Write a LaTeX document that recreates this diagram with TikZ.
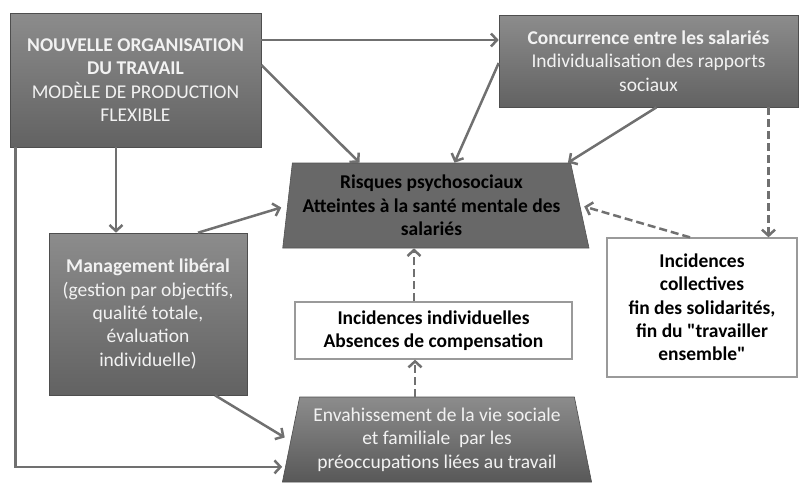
\documentclass[tikz,border=0pt]{standalone}
\usepackage{fontspec}
\setmainfont{Carlito}[Ligatures=TeXOff]
\usetikzlibrary{arrows.meta,shapes.geometric,calc}
\definecolor{arrc}{HTML}{707070}
\definecolor{boxtop}{HTML}{8C8C8C}
\definecolor{boxbot}{HTML}{626262}
\definecolor{darkfill}{HTML}{686868}
\definecolor{wtext}{HTML}{F2F2F2}
\definecolor{wborder}{HTML}{9A9A9A}
\tikzset{
  greybox/.style={rectangle, top color=boxtop, bottom color=boxbot, draw=boxbot!80!black, line width=0.6pt,
    text=wtext, align=center, inner sep=3pt, font=\fontsize{19.5}{23.3}\selectfont},
  whitebox/.style={rectangle, fill=white, draw=wborder, line width=1.3pt, text=black, align=center,
    inner sep=3pt, font=\fontsize{19.5}{23.3}\selectfont\bfseries},
  trap/.style={trapezium, trapezium stretches=true, align=center, inner sep=2pt,
    font=\fontsize{19.5}{23.3}\selectfont},
  arr/.style={draw=arrc, line width=2.5pt, -{Straight Barb[length=6pt,width=13pt]}},
  darr/.style={arr, dash pattern=on 8pt off 4pt}
}
\begin{document}
\begin{tikzpicture}[x=1pt,y=-1pt]
\useasboundingbox (0,0) rectangle (800,483);
% boxes
\node[greybox, minimum width=251pt, minimum height=134pt] (A) at (135.5,80)
  {\textbf{NOUVELLE ORGANISATION}\\\textbf{DU TRAVAIL}\\MODÈLE DE PRODUCTION\\FLEXIBLE};
\node[greybox, minimum width=299pt, minimum height=92pt] (B) at (648.5,61)
  {\textbf{Concurrence entre les salariés}\\Individualisation des rapports\\sociaux};
\node[trap, fill=darkfill, draw=darkfill!80!black, line width=0.6pt, text=black, font=\fontsize{19.5}{23.3}\selectfont\bfseries,
  trapezium left angle=82, trapezium right angle=75, minimum width=307pt, minimum height=85pt] (R) at (431.5,205.5)
  {Risques psychosociaux\\Atteintes à la santé mentale des\\salariés};
\node[greybox, minimum width=198pt, minimum height=162pt] (M) at (148,314)
  {\textbf{Management libéral}\\(gestion par objectifs,\\qualité totale,\\évaluation\\individuelle)};
\node[whitebox, minimum width=277pt, minimum height=57pt] (I) at (433.5,330.5)
  {Incidences individuelles\\Absences de compensation};
\node[whitebox, minimum width=190pt, minimum height=139pt] (C) at (702,307.5)
  {Incidences\\collectives\\fin des solidarités,\\fin du "travailler\\ensemble"};
\node[trap, top color=boxtop, bottom color=boxbot!90!black, draw=boxbot!80!black, line width=0.6pt, text=wtext,
  trapezium left angle=76.8, trapezium right angle=76.8, minimum width=310pt, minimum height=85pt] (E) at (437,439.5)
  {Envahissement de la vie sociale\\et familiale~ par les\\préoccupations liées au travail};
% connectors
\draw[arr] ([yshift=40pt]A.east) -- ([yshift=40pt]A.east -| B.west);
\draw[arr] ([yshift=15pt]A.east) -- ([xshift=-72pt]R.north);
\draw[arr] ([yshift=-2pt]B.west) -- ([xshift=23pt]R.north);
\draw[arr] ([xshift=8pt]B.south) -- ([xshift=-3pt]R.top right corner);
\draw[darr] ([xshift=120pt]B.south) -- ([xshift=120pt]B.south |- C.north);
\draw[darr] ([xshift=-12pt]C.north) -- ([xshift=4pt,yshift=-1pt]R.east);
\draw[arr] ([xshift=-19.5pt]A.south) -- ([xshift=-19.5pt]A.south |- M.north);
\draw[arr] ([xshift=50pt]M.north) -- ([xshift=-6pt,yshift=-2pt]R.west);
\draw[arr] ([xshift=6pt]A.south west) |- ($(E.bottom left corner)!0.18!(E.top left corner)+(-3,0)$);
\draw[arr] ([xshift=67pt]M.south) -- ([xshift=-6pt,yshift=2pt]E.west);
\draw[darr] ([xshift=-22pt]E.north) -- ([xshift=-22pt]E.north |- I.south);
\draw[darr] ([xshift=-19.5pt]I.north) -- ([xshift=-19.5pt]I.north |- R.south);
\end{tikzpicture}
\end{document}
